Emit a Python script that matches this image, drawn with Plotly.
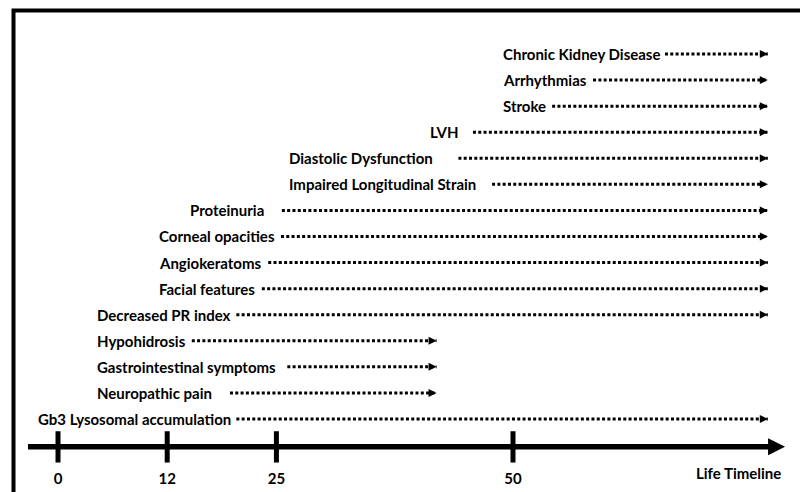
import plotly.graph_objects as go

# ---------------- data ----------------
EVENTS = [
    "Chronic Kidney Disease", "Arrhythmias", "Stroke", "LVH",
    "Diastolic Dysfunction", "Impaired Longitudinal Strain", "Proteinuria",
    "Corneal opacities", "Angiokeratoms", "Facial features",
    "Decreased PR index", "Hypohidrosis", "Gastrointestinal symptoms",
    "Neuropathic pain", "Gb3 Lysosomal accumulation",
]
# onset of each manifestation on the schematic timeline (line start)
ONSET = [66.7, 58.8, 54.3, 45.6, 44.0, 47.7, 24.6, 24.5, 23.1, 22.4,
         19.6, 14.7, 25.2, 18.9, 19.6]
# end of arrow on the timeline
END = [78.0, 78.0, 78.0, 78.0, 78.0, 78.0, 78.0, 78.0, 78.0, 78.0,
       78.0, 41.6, 41.6, 41.6, 78.0]
TICK_LABELS = ["0", "12", "25", "50"]
AXIS_TITLE = "Life Timeline"

# ---------------- layout helpers ----------------
LABEL_X = [48.7, 48.7, 48.7, 40.7, 25.2, 25.2, 14.3, 10.9, 10.9, 10.9,
           4.1, 4.1, 4.1, 4.1, -2.4]
TICK_POS = [0, 12, 24, 50]
AXIS_ROW = 15.07
AXIS_START, AXIS_END = -3.3, 79.9
TICK_HALF = 0.6
FONT = "Lato"
FS = 15

fig = go.Figure()

rows = list(range(len(EVENTS)))

# dotted lines
for i in rows:
    fig.add_trace(go.Scatter(
        x=[ONSET[i], END[i]], y=[i, i], mode="lines",
        line=dict(color="black", width=3, dash="3px,2.3px"),
        hoverinfo="skip", showlegend=False))
# arrow heads
fig.add_trace(go.Scatter(
    x=END, y=rows, mode="markers",
    marker=dict(symbol="arrow-right", size=8, color="black", line=dict(width=0)),
    hoverinfo="skip", showlegend=False))

# labels
for i in rows:
    fig.add_annotation(x=LABEL_X[i], y=i, text=EVENTS[i], showarrow=False,
                       xanchor="left", yanchor="middle",
                       font=dict(family=FONT, size=FS, color="black", weight="bold"))

# timeline axis
fig.add_trace(go.Scatter(
    x=[AXIS_START, AXIS_END - 1.2], y=[AXIS_ROW, AXIS_ROW], mode="lines",
    line=dict(color="black", width=5.5), hoverinfo="skip", showlegend=False))
fig.add_trace(go.Scatter(
    x=[AXIS_END], y=[AXIS_ROW], mode="markers",
    marker=dict(symbol="arrow-right", size=17, color="black", line=dict(width=0)),
    hoverinfo="skip", showlegend=False))
tx, ty = [], []
for p in TICK_POS:
    tx += [p, p, None]
    ty += [AXIS_ROW - TICK_HALF, AXIS_ROW + TICK_HALF, None]
fig.add_trace(go.Scatter(x=tx, y=ty, mode="lines",
                         line=dict(color="black", width=5),
                         hoverinfo="skip", showlegend=False))
fig.add_trace(go.Scatter(
    x=TICK_POS, y=[AXIS_ROW + 1.27] * len(TICK_POS), mode="text",
    text=TICK_LABELS, textposition="middle center",
    textfont=dict(family=FONT, size=FS, color="black", weight="bold"),
    hoverinfo="skip", showlegend=False))
fig.add_annotation(x=AXIS_END - 0.2, y=AXIS_ROW + 1.0, text=AXIS_TITLE,
                   showarrow=False, xanchor="right", yanchor="middle",
                   font=dict(family=FONT, size=FS, color="black", weight="bold"))

# frame (top and left edges visible)
fig.add_shape(type="rect", xref="paper", yref="paper",
              x0=13.5 / 800, x1=1.05, y0=-0.05, y1=1 - 10.5 / 492,
              line=dict(color="black", width=4), fillcolor="rgba(0,0,0,0)")

fig.update_layout(
    width=800, height=492,
    margin=dict(l=0, r=0, t=0, b=0),
    paper_bgcolor="white", plot_bgcolor="white",
    xaxis=dict(range=[-58 / 9.1, 742 / 9.1], visible=False, fixedrange=True),
    yaxis=dict(range=[(492 - 54) / 26.07, -54 / 26.07], visible=False, fixedrange=True),
    showlegend=False,
)

fig.write_html(
    "out.html",
    config={"displayModeBar": False},
    post_script="document.body.style.margin='0';document.body.style.overflow='hidden';",
)
